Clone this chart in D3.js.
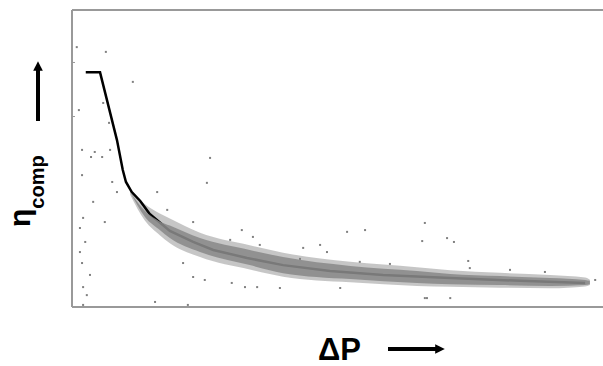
<!DOCTYPE html>
<html>
<head>
<meta charset="utf-8">
<script src="https://cdn.jsdelivr.net/npm/d3@7"></script>
<style>
  body { margin: 0; background: #fff; }
  svg { display: block; font-family: "Liberation Sans", Arial, sans-serif; }
</style>
</head>
<body>
<div id="chart"></div>
<script>
// fitted curve (black line)
const lineX = [2.6, 5.3, 8.5, 9.6, 10.2, 11.3, 12.9, 14.7, 18.5, 22.9, 26.7, 33.1, 39.9, 48.8, 58.8, 71.5, 84.7, 97.0];
const lineY = [79.0, 79.0, 56.2, 46.1, 42.1, 38.7, 35.7, 31.3, 25.6, 21.9, 19.2, 16.5, 14.1, 12.1, 10.8, 9.8, 8.8, 8.1];

// dense band of measured points
const bandX = [11.0, 13.8, 16.6, 18.5, 24.2, 33.6, 39.9, 52.6, 65.2, 71.5, 80.9, 90.4, 97.0, 97.9];
const bandUpper = [38.7, 32.3, 28.8, 27.4, 23.2, 19.2, 16.8, 13.8, 12.1, 11.1, 10.4, 9.8, 9.1, 8.8];
const bandLower = [38.7, 30.3, 25.9, 23.2, 18.5, 14.1, 11.4, 9.4, 8.1, 7.7, 7.4, 7.1, 7.4, 7.7];
const haloUpper = [39.6, 34.6, 31.5, 29.8, 25.0, 20.8, 18.3, 15.2, 13.4, 12.4, 11.5, 10.8, 9.9, 9.2];
const haloLower = [37.8, 29.0, 24.2, 21.5, 16.8, 12.6, 10.2, 8.3, 7.1, 6.8, 6.5, 6.3, 6.9, 7.4];

// scattered points outside the band
const scatterX = [0.9, 6.4, 11.5, 1.3, 5.9, 7.0, 1.9, 4.3, 3.6, 5.7, 7.2, 26.1, 1.9, 7.6, 4.0, 8.5, 25.5,
  2.1, 6.2, 1.5, 2.5, 1.5, 1.9, 3.4, 2.1, 2.8, 2.1, 15.7, 21.9, 21.0, 22.9, 25.1, 30.2, 32.7, 18.0, 16.1,
  22.9, 32.1, 34.2, 52.0, 55.4, 66.7, 66.2, 43.7, 46.9, 48.2, 35.0, 39.3, 50.7, 66.7, 71.5, 70.9, 72.2,
  74.9, 67.1, 98.9, 43.1, 60.1, 75.2, 82.8, 89.4, 54.4, 35.5, 29.9];
const scatterY = [87.5, 85.9, 75.8, 66.3, 68.7, 62.0, 52.9, 52.2, 50.5, 50.5, 52.9, 50.2, 44.4, 42.1, 35.4, 38.7, 41.8,
  30.0, 28.6, 26.6, 21.9, 18.5, 14.8, 10.8, 6.7, 4.0, 0.7, 1.7, 0.7, 14.8, 10.1, 9.1, 8.1, 6.7, 32.7, 38.7,
  28.6, 25.9, 23.6, 25.3, 25.9, 28.3, 22.2, 19.9, 20.9, 18.5, 6.7, 6.4, 6.4, 3.0, 3.0, 23.2, 21.9,
  15.5, 3.0, 9.1, 16.2, 14.5, 13.1, 12.5, 11.8, 15.2, 20.9, 22.6];

const yTicks = [82.5, 64.3];

const W = 603, H = 366;
const margin = { top: 10, right: 2, bottom: 59, left: 72 };

const svg = d3.select('#chart').append('svg')
  .attr('width', W)
  .attr('height', H);

const x = d3.scaleLinear().domain([0, 100]).range([margin.left, W - margin.right]);
const y = d3.scaleLinear().domain([0, 100]).range([H - margin.bottom, margin.top]);

const bandPts = bandX.map((v, i) => ({ x: v, u: bandUpper[i], l: bandLower[i], hu: haloUpper[i], hl: haloLower[i] }));

// sparse halo of the band
svg.append('path')
  .datum(bandPts)
  .attr('fill', '#b8b8b8')
  .attr('fill-opacity', 0.8)
  .attr('d', d3.area().x(d => x(d.x)).y0(d => y(d.hl)).y1(d => y(d.hu)).curve(d3.curveMonotoneX));

// black line, mostly under the dense points
const linePts = lineX.map((v, i) => ({ x: v, y: lineY[i] }));
svg.append('path')
  .datum(linePts)
  .attr('fill', 'none')
  .attr('stroke', '#000')
  .attr('stroke-width', 2.5)
  .attr('d', d3.line().x(d => x(d.x)).y(d => y(d.y)));

// dense core of the band
svg.append('path')
  .datum(bandPts)
  .attr('fill', '#8a8a8a')
  .attr('fill-opacity', 0.88)
  .attr('d', d3.area().x(d => x(d.x)).y0(d => y(d.l)).y1(d => y(d.u)).curve(d3.curveMonotoneX));

// scattered points
svg.append('g').selectAll('rect')
  .data(scatterX.map((v, i) => ({ x: v, y: scatterY[i] })))
  .join('rect')
  .attr('x', d => x(d.x) - 1)
  .attr('y', d => y(d.y) - 1)
  .attr('width', 2)
  .attr('height', 2)
  .attr('fill', '#808080');

// frame: left, top, bottom
const frame = svg.append('g').attr('stroke', '#999').attr('stroke-width', 2).attr('fill', 'none');
frame.append('line').attr('x1', x(0)).attr('x2', x(0)).attr('y1', y(100)).attr('y2', y(0));
frame.append('line').attr('x1', x(0)).attr('x2', W).attr('y1', y(100)).attr('y2', y(100));
frame.append('line').attr('x1', x(0)).attr('x2', W).attr('y1', y(0)).attr('y2', y(0));

svg.append('g')
  .attr('transform', `translate(${x(0)},0)`)
  .call(d3.axisRight(y).tickValues(yTicks).tickSize(3).tickFormat(''))
  .call(g => g.select('.domain').remove())
  .call(g => g.selectAll('line').attr('stroke', '#999'));

// arrow marker
svg.append('defs').append('marker')
  .attr('id', 'head')
  .attr('viewBox', '0 0 10 10')
  .attr('refX', 5).attr('refY', 5)
  .attr('markerWidth', 2.4).attr('markerHeight', 2.4)
  .attr('orient', 'auto')
  .append('path').attr('d', 'M0,0 L10,5 L0,10 Z').attr('fill', '#000');

// x label
svg.append('text')
  .attr('x', 318).attr('y', 360)
  .attr('font-size', 31).attr('font-weight', 'bold')
  .text('ΔP');
svg.append('line')
  .attr('x1', 388).attr('x2', 440).attr('y1', 349).attr('y2', 349)
  .attr('stroke', '#000').attr('stroke-width', 4)
  .attr('marker-end', 'url(#head)');

// y label
const yl = svg.append('text')
  .attr('transform', 'translate(30,227) rotate(-90)')
  .attr('font-weight', 'bold');
yl.append('tspan').attr('font-size', 30).text('η');
yl.append('tspan').attr('font-size', 20).attr('dy', 14).text('comp');
svg.append('line')
  .attr('x1', 38).attr('x2', 38).attr('y1', 121).attr('y2', 66)
  .attr('stroke', '#000').attr('stroke-width', 4)
  .attr('marker-end', 'url(#head)');
</script>
</body>
</html>
